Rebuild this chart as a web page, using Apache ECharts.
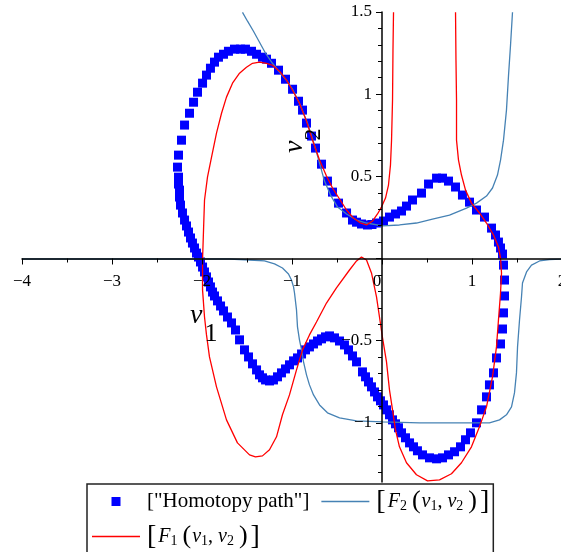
<!DOCTYPE html>
<html>
<head>
<meta charset="utf-8">
<script src="https://cdn.jsdelivr.net/npm/echarts@6/dist/echarts.min.js"></script>
<style>
  html, body { margin: 0; padding: 0; background: #ffffff; }
  #chart { width: 561px; height: 552px; }
</style>
</head>
<body>
<div id="chart"></div>
<script>
// Homotopy path samples (v1, v2)
const pathV1 = [
  -2.272, -2.261, -2.261, -2.250, -2.250, -2.239, -2.217, -2.194, -2.172, -2.150,
  -2.128, -2.106, -2.083, -2.061, -2.039, -2.017, -1.994, -1.972, -1.950, -1.928,
  -1.906, -1.883, -1.861, -1.828, -1.794, -1.761, -1.717, -1.672, -1.628, -1.583,
  -1.528, -1.483, -1.439, -1.394, -1.361, -1.328, -1.294, -1.250, -1.206, -1.161,
  -1.117, -1.072, -1.028, -0.983, -0.939, -0.894, -0.850, -0.806, -0.761, -0.717,
  -0.672, -0.628, -0.583, -0.528, -0.472, -0.417, -0.372, -0.328, -0.283, -0.217,
  -0.183, -0.150, -0.117, -0.083, -0.050, -0.017, 0.017, 0.050, 0.083, 0.117,
  0.150, 0.183, 0.217, 0.261, 0.306, 0.350, 0.394, 0.450, 0.528, 0.606,
  0.672, 0.739, 0.806, 0.872, 0.928, 0.983, 1.050, 1.106, 1.161, 1.194,
  1.239, 1.272, 1.317, 1.339, 1.350, 1.361, 1.361, 1.350, 1.339, 1.317,
  1.294, 1.261, 1.217, 1.139, 1.050, 0.972, 0.894, 0.817, 0.739, 0.672,
  0.606, 0.517, 0.439, 0.339, 0.272, 0.217, 0.150, 0.083, 0.017, -0.061,
  -0.111, -0.161, -0.228, -0.283, -0.328, -0.394, -0.483, -0.550, -0.606, -0.672,
  -0.739, -0.783, -0.839, -0.883, -0.928, -0.994, -1.072, -1.150, -1.228, -1.283,
  -1.328, -1.394, -1.450, -1.517, -1.572, -1.639, -1.706, -1.761, -1.817, -1.861,
  -1.906, -1.950, -1.994, -2.050, -2.094, -2.139, -2.194, -2.228, -2.261
];
const pathV2 = [
  0.556, 0.495, 0.453, 0.416, 0.374, 0.325, 0.277, 0.234, 0.198, 0.161,
  0.125, 0.094, 0.064, 0.033, 0.009, -0.021, -0.052, -0.082, -0.112, -0.143,
  -0.173, -0.204, -0.228, -0.258, -0.289, -0.319, -0.356, -0.392, -0.435, -0.495,
  -0.556, -0.599, -0.641, -0.678, -0.708, -0.726, -0.739, -0.745, -0.739, -0.720,
  -0.696, -0.672, -0.647, -0.623, -0.605, -0.581, -0.556, -0.538, -0.520, -0.502,
  -0.489, -0.477, -0.471, -0.483, -0.502, -0.526, -0.556, -0.593, -0.629, -0.690,
  -0.720, -0.751, -0.781, -0.812, -0.842, -0.866, -0.891, -0.921, -0.951, -0.982,
  -1.006, -1.030, -1.061, -1.091, -1.122, -1.146, -1.170, -1.195, -1.213, -1.219,
  -1.213, -1.195, -1.176, -1.146, -1.103, -1.061, -1.000, -0.921, -0.842, -0.769,
  -0.696, -0.605, -0.520, -0.429, -0.331, -0.228, -0.131, -0.040, 0.027, 0.064,
  0.100, 0.143, 0.185, 0.252, 0.295, 0.343, 0.386, 0.435, 0.471, 0.489,
  0.489, 0.453, 0.398, 0.356, 0.319, 0.289, 0.271, 0.252, 0.228, 0.216,
  0.207, 0.204, 0.210, 0.221, 0.234, 0.277, 0.337, 0.404, 0.471, 0.574,
  0.672, 0.745, 0.824, 0.903, 0.957, 1.030, 1.091, 1.146, 1.188, 1.213,
  1.225, 1.243, 1.261, 1.274, 1.274, 1.274, 1.261, 1.243, 1.225, 1.195,
  1.158, 1.116, 1.067, 1.012, 0.951, 0.884, 0.812, 0.720, 0.629
];

// F1(v1, v2) = 0 : one branch
const f1V1 = [
  0.128, 0.122, 0.117, 0.106, 0.094, 0.072, 0.039, -0.006, -0.050, -0.106,
  -0.172, -0.239, -0.317, -0.394, -0.472, -0.550, -0.617, -0.694, -0.772, -0.839,
  -0.917, -0.994, -1.061, -1.139, -1.217, -1.283, -1.361, -1.439, -1.506, -1.583,
  -1.661, -1.728, -1.783, -1.839, -1.894, -1.939, -1.972, -1.983, -1.994, -1.994,
  -1.972, -1.950, -1.917, -1.839, -1.728, -1.606, -1.472, -1.406, -1.328, -1.250,
  -1.172, -1.106, -1.028, -0.950, -0.883, -0.806, -0.728, -0.617, -0.506, -0.361,
  -0.283, -0.228, -0.172, -0.117, -0.061, -0.028, 0.006, 0.050, 0.083, 0.117,
  0.150, 0.194, 0.272, 0.383, 0.506, 0.639, 0.772, 0.883, 0.994, 1.083,
  1.161, 1.228, 1.272, 1.294, 1.317, 1.328, 1.317, 1.294, 1.239, 1.161,
  1.083, 0.994, 0.928, 0.883, 0.850, 0.828, 0.828, 0.822, 0.817
];
const f1V2 = [
  1.498, 1.267, 0.964, 0.720, 0.568, 0.447, 0.368, 0.313, 0.271, 0.228,
  0.204, 0.216, 0.246, 0.295, 0.362, 0.429, 0.502, 0.599, 0.720, 0.836,
  0.945, 1.024, 1.085, 1.140, 1.176, 1.188, 1.195, 1.188, 1.164, 1.128,
  1.067, 0.982, 0.884, 0.763, 0.617, 0.495, 0.356, 0.173, -0.009, -0.191,
  -0.356, -0.465, -0.599, -0.781, -0.982, -1.122, -1.195, -1.207, -1.201, -1.164,
  -1.085, -0.951, -0.830, -0.678, -0.556, -0.465, -0.386, -0.271, -0.179, -0.070,
  -0.015, 0.009, -0.009, -0.088, -0.234, -0.356, -0.483, -0.629, -0.799, -0.921,
  -1.043, -1.146, -1.243, -1.316, -1.353, -1.347, -1.310, -1.243, -1.146, -1.024,
  -0.903, -0.720, -0.538, -0.374, -0.210, -0.088, 0.003, 0.070, 0.143, 0.216,
  0.277, 0.337, 0.416, 0.508, 0.599, 0.720, 0.964, 1.207, 1.498
];

// F2(v1, v2) = 0 : upper branch
const f2aV1 = [
  -1.550, -1.494, -1.428, -1.361, -1.294, -1.217, -1.139, -1.061, -0.994, -0.917,
  -0.828, -0.750, -0.694, -0.639, -0.572, -0.494, -0.394, -0.283, -0.172, 0.006,
  0.194, 0.383, 0.561, 0.750, 0.939, 1.050, 1.161, 1.228, 1.283, 1.317,
  1.350, 1.383, 1.406, 1.428, 1.450
];
const f2aV2 = [
  1.498, 1.444, 1.383, 1.316, 1.249, 1.188, 1.134, 1.085, 1.030, 0.945,
  0.824, 0.690, 0.581, 0.471, 0.386, 0.313, 0.271, 0.234, 0.216, 0.198,
  0.204, 0.216, 0.240, 0.264, 0.307, 0.337, 0.380, 0.429, 0.508, 0.599,
  0.720, 0.903, 1.116, 1.298, 1.498
];
// F2(v1, v2) = 0 : lower branch
const f2bV1 = [
  -4.000, -2.583, -1.694, -1.472, -1.306, -1.194, -1.106, -1.039, -1.006, -0.983,
  -0.972, -0.950, -0.939, -0.917, -0.894, -0.872, -0.839, -0.806, -0.761, -0.694,
  -0.606, -0.472, -0.283, 0.006, 0.417, 0.861, 1.194, 1.306, 1.383, 1.439,
  1.472, 1.494, 1.506, 1.528, 1.550, 1.561, 1.606, 1.661, 1.750, 1.861, 2.000
];
const f2bV2 = [
  -0.003, -0.003, -0.003, -0.009, -0.015, -0.033, -0.058, -0.094, -0.131, -0.173,
  -0.210, -0.313, -0.416, -0.495, -0.556, -0.629, -0.708, -0.769, -0.830, -0.891,
  -0.939, -0.970, -0.988, -0.994, -1.000, -1.000, -1.000, -0.982, -0.951, -0.903,
  -0.818, -0.696, -0.538, -0.374, -0.234, -0.149, -0.082, -0.040, -0.015, -0.006, -0.003
];

// Axis ranges, ticks and labels
const xRange = [-4, 2];
const yRange = [-1.36, 1.5];
const yMajorTicks = [-1, -0.5, 0, 0.5, 1, 1.5];
const yLabelValues = [-1, -0.5, 0.5, 1, 1.5];
const yMinorTicks = [-1.3, -1.2, -1.1, -0.9, -0.8, -0.7, -0.6, -0.4, -0.3, -0.2, -0.1,
  0.1, 0.2, 0.3, 0.4, 0.6, 0.7, 0.8, 0.9, 1.1, 1.2, 1.3, 1.4];

const SERIF = '"Liberation Serif", "DejaVu Serif", serif';
const GRID = { left: 22, top: 12, width: 540, height: 470 };

// Axes cross at the origin: move them in from the grid edges by the position of zero
const xAxisOffset = -((0 - yRange[0]) / (yRange[1] - yRange[0])) * GRID.height;
const yAxisOffset = -((0 - xRange[0]) / (xRange[1] - xRange[0])) * GRID.width;

function pairs(xs, ys) { return xs.map((x, i) => [x, ys[i]]); }
function withMinus(v) { return String(v).replace('-', '\u2212'); }

const legendLabels = {
  path: '{h|["Homotopy path"]}',
  F2: '{b|[}{i|F}{s|2}{p|(}{i|v}{s|1}{t|, }{i|v}{s|2}{p|)}{b|]}',
  F1: '{b|[}{i|F}{s|1}{p|(}{i|v}{s|1}{t|, }{i|v}{s|2}{p|)}{b|]}'
};

const chart = echarts.init(document.getElementById('chart'), null, { renderer: 'canvas' });

chart.setOption({
  animation: false,
  backgroundColor: '#ffffff',
  grid: Object.assign({ containLabel: false, outerBoundsMode: 'none' }, GRID),
  xAxis: {
    type: 'value', min: xRange[0], max: xRange[1], interval: 1, z: 10,
    position: 'bottom', offset: xAxisOffset,
    axisLine: { onZero: false, lineStyle: { color: '#000', width: 1.5 } },
    axisTick: { length: 6, lineStyle: { color: '#000', width: 1 } },
    minorTick: { show: true, splitNumber: 2, length: 4, lineStyle: { color: '#000', width: 1 } },
    splitLine: { show: false },
    minorSplitLine: { show: false },
    axisLabel: {
      margin: 15, color: '#000', fontFamily: SERIF, fontSize: 17,
      showMinLabel: true, showMaxLabel: true, hideOverlap: false,
      formatter: v => (v === 0 ? '{z|0}' : withMinus(v)),
      rich: { z: { fontFamily: SERIF, fontSize: 17, color: '#000', padding: [0, 10, 0, 0] } }
    }
  },
  yAxis: [
    {
      type: 'value', min: yRange[0], max: yRange[1], position: 'left', z: 10,
      offset: yAxisOffset,
      axisLine: { onZero: false, lineStyle: { color: '#000', width: 1.5 } },
      axisTick: { customValues: yMajorTicks, length: 6, lineStyle: { color: '#000', width: 1 } },
      splitLine: { show: false },
      axisLabel: {
        customValues: yLabelValues, margin: 10, color: '#000', fontFamily: SERIF, fontSize: 17,
        hideOverlap: false,
        formatter: v => withMinus(v)
      }
    },
    {
      type: 'value', min: yRange[0], max: yRange[1], position: 'left', z: 10,
      offset: yAxisOffset,
      axisLine: { show: false, onZero: false },
      axisTick: { customValues: yMinorTicks, length: 4, lineStyle: { color: '#000', width: 1 } },
      splitLine: { show: false },
      axisLabel: { show: false }
    }
  ],
  legend: {
    left: 87, top: 484, width: 400,
    orient: 'horizontal',
    padding: [3.5, 2, 14, 5],
    itemWidth: 48, itemHeight: 9, itemGap: 7,
    borderColor: '#222', borderWidth: 1.5, borderRadius: 0,
    selectedMode: false,
    data: [
      { name: 'path', icon: 'path://M0,0L10,0L10,10L0,10Z' },
      { name: 'F2', icon: 'path://M0,0L48,0L48,1.3L0,1.3Z' },
      { name: 'F1', icon: 'path://M0,0L48,0L48,1.3L0,1.3Z' }
    ],
    formatter: name => legendLabels[name],
    textStyle: {
      color: '#000', fontFamily: SERIF, fontSize: 20,
      rich: {
        h: { fontFamily: SERIF, fontSize: 21, lineHeight: 21, padding: [0, 5, 0, 2], color: '#000' },
        t: { fontFamily: SERIF, fontSize: 20, lineHeight: 21, color: '#000' },
        i: { fontFamily: SERIF, fontStyle: 'italic', fontSize: 20, lineHeight: 21, color: '#000' },
        s: { fontFamily: SERIF, fontSize: 14, lineHeight: 21, padding: [10, 0, 0, 0], color: '#000' },
        p: { fontFamily: SERIF, fontSize: 26, lineHeight: 21, padding: [0, 1, 0, 5], color: '#000' },
        b: { fontFamily: SERIF, fontSize: 28, lineHeight: 21, padding: [0, 2, 0, 2], color: '#000' }
      }
    }
  },
  graphic: [
    {
      type: 'text', x: 190, y: 316, z: 20,
      style: {
        text: '{v|v}{s|1}', align: 'left', verticalAlign: 'middle',
        rich: {
          v: { fontFamily: SERIF, fontStyle: 'italic', fontSize: 28, fill: '#000' },
          s: { fontFamily: SERIF, fontSize: 26, padding: [36, 0, 0, 2], fill: '#000' }
        }
      }
    },
    {
      type: 'text', x: 295, y: 153, rotation: Math.PI / 2, z: 20,
      style: {
        text: '{v|v}{s|2}', align: 'left', verticalAlign: 'middle',
        rich: {
          v: { fontFamily: SERIF, fontStyle: 'italic', fontSize: 28, fill: '#000' },
          s: { fontFamily: SERIF, fontSize: 24, padding: [38, 0, 0, 0], fill: '#000' }
        }
      }
    }
  ],
  // The plotted marks sit on a lower canvas layer so axis lines and tick labels stay on top
  series: [
    {
      name: 'path', type: 'scatter', zlevel: -1, z: 1,
      symbol: 'rect', symbolSize: 9,
      itemStyle: { color: '#0000ff', opacity: 1 },
      emphasis: { disabled: true },
      data: pairs(pathV1, pathV2)
    },
    {
      name: 'F2', type: 'line', zlevel: -1, z: 2, symbol: 'none', showSymbol: false, clip: true,
      lineStyle: { color: '#4682b4', width: 1.3 }, itemStyle: { color: '#4682b4' },
      data: pairs(f2aV1, f2aV2)
    },
    {
      name: 'F2', type: 'line', zlevel: -1, z: 2, symbol: 'none', showSymbol: false, clip: true,
      lineStyle: { color: '#4682b4', width: 1.3 }, itemStyle: { color: '#4682b4' },
      data: pairs(f2bV1, f2bV2)
    },
    {
      name: 'F1', type: 'line', zlevel: -1, z: 3, symbol: 'none', showSymbol: false, clip: true,
      lineStyle: { color: '#ff0000', width: 1.3 }, itemStyle: { color: '#ff0000' },
      data: pairs(f1V1, f1V2)
    }
  ]
});
</script>
</body>
</html>
